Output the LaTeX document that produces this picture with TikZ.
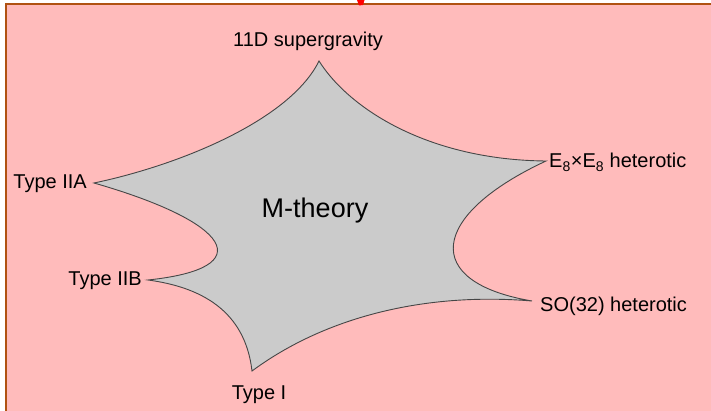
\documentclass[tikz,border=0pt]{standalone}
\usepackage{fontspec}
\setmainfont{Liberation Sans}
\usepackage{tikz}
\usetikzlibrary{positioning}
\usepackage{xcolor}
\definecolor{slidepink}{RGB}{255, 187, 187}
\definecolor{framebrown}{RGB}{176, 82, 18}
\definecolor{stargray}{RGB}{203, 203, 203}
\definecolor{edgegray}{RGB}{70, 70, 70}

\begin{document}
\begin{tikzpicture}[x=1pt, y=-1pt,
        lbl/.style={font=\fontsize{20}{23}\selectfont, inner sep=0pt, text=black},
        big/.style={font=\fontsize{27}{30}\selectfont, inner sep=0pt, text=black}]
    \useasboundingbox (0,0) rectangle (711,411);

    % --- Slide background ---
    \fill[white] (0,0) rectangle (711,411);
    \fill[slidepink] (5.5,4) rectangle (712,412);
    \draw[framebrown, line width=2pt] (5.5,412) -- (5.5,4) -- (712,4);
    % red mark at the top edge
    \fill[red] (357,0) -- (364.5,0) -- (363,5) -- (359,5.5) -- cycle;

    % --- Tips of the star ---
    \coordinate (sugra) at (319,61);
    \coordinate (eight) at (546,161);
    \coordinate (sotw) at (532,301);
    \coordinate (one) at (252,371);
    \coordinate (iib) at (148,280);
    \coordinate (iia) at (94,183);

    % --- M-theory moduli space ---
    \filldraw[fill=stargray, draw=edgegray, line width=0.9pt, line join=miter]
        (sugra) .. controls (350,110) and (430,160) .. (eight)
                .. controls (430,215) and (420,282) .. (sotw)
                .. controls (425,292) and (325,317) .. (one)
                .. controls (245,310) and (200,287) .. (iib)
                .. controls (262,268) and (230,222) .. (iia)
                .. controls (180,165) and (290,120) .. cycle;

    \node[big, anchor=base] (mth) at (315,218) {M-theory};

    % --- Limits ---
    \node[lbl, anchor=base] (sugralbl) at (308,47) {11D supergravity};
    \node[lbl, anchor=base west] (eightlbl) at (549,168) {E\textsubscript{8}×E\textsubscript{8} heterotic};
    \node[lbl, anchor=base west] (sotwlbl) at (540,311) {SO(32) heterotic};
    \node[lbl, anchor=base] (onelbl) at (259,399) {Type I};
    \node[lbl, anchor=base east] (iiblbl) at (142,285) {Type IIB};
    \node[lbl, anchor=base east] (iialbl) at (87,189) {Type IIA};
\end{tikzpicture}
\end{document}
